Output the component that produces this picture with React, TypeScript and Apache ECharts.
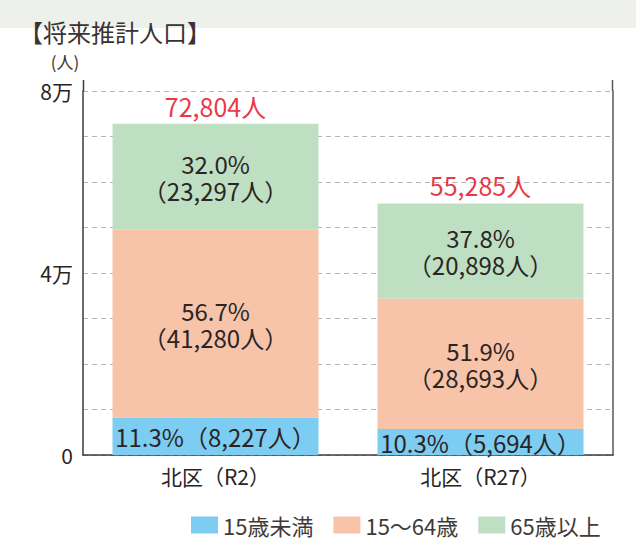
import React, { useEffect, useRef } from "react";
import * as echarts from "echarts";

const categories = ["北区（R2）", "北区（R27）"];
const seriesNames = ["15歳未満", "15〜64歳", "65歳以上"];
const under15 = [8227, 5694];
const age15to64 = [41280, 28693];
const over65 = [23297, 20898];
const totals = [72804, 55285];
const percentUnder15 = ["11.3", "10.3"];
const percent15to64 = ["56.7", "51.9"];
const percentOver65 = ["32.0", "37.8"];
const yTickLabels: Record<number, string> = { 0: "0", 40000: "4万", 80000: "8万" };

const FONT = "'Noto Sans CJK JP', 'Noto Sans', sans-serif";
const TEXT = "#2a2524";

const fmt = (n: number) => n.toLocaleString("en-US");

export default function App() {
  const ref = useRef<HTMLDivElement>(null);
  useEffect(() => {
    if (!ref.current) return;
    const chart = echarts.init(ref.current, null, { renderer: "svg" });
    const insideLabel = (pcts: string[], vals: number[], twoLine: boolean) => ({
      show: true,
      position: "inside",
      color: TEXT,
      fontFamily: FONT,
      fontSize: 24,
      lineHeight: 27,
      formatter: (p: any) =>
        twoLine
          ? `${pcts[p.dataIndex]}%\n（${fmt(vals[p.dataIndex])}人）`
          : `${pcts[p.dataIndex]}%（${fmt(vals[p.dataIndex])}人）`,
    });
    chart.setOption({
      animation: false,
      textStyle: { fontFamily: FONT },
      graphic: [
        { type: "rect", shape: { x: 0, y: 0, width: 636, height: 28 }, style: { fill: "#eef0ec" }, z: -10 },
        { type: "text", x: 19, y: 31, style: { text: "【将来推計人口】", font: `24px ${FONT}`, fill: "#3a3330", textVerticalAlign: "middle" } },
        { type: "text", x: 65, y: 61, style: { text: "(人)", font: `17px ${FONT}`, fill: "#3a3330", textAlign: "center", textVerticalAlign: "middle" } },
        { type: "line", shape: { x1: 83.5, y1: 80, x2: 83.5, y2: 91 }, style: { stroke: "#3e3a39", lineWidth: 1.5 } },
        { type: "line", shape: { x1: 612.5, y1: 80, x2: 612.5, y2: 91 }, style: { stroke: "#5a5655", lineWidth: 1.5 } },
      ],
      legend: {
        data: seriesNames,
        left: 186,
        top: 509,
        icon: "rect",
        itemWidth: 27,
        itemHeight: 17,
        itemGap: 20,
        textStyle: { fontSize: 22, color: "#3e3a39", fontFamily: FONT },
      },
      grid: { left: 83, right: 23, top: 91, bottom: 85, containLabel: false },
      xAxis: {
        type: "category",
        data: categories,
        axisLine: { lineStyle: { color: "#3e3a39", width: 1.5 } },
        axisTick: { show: false },
        axisLabel: { fontSize: 21, color: TEXT, margin: 10, fontFamily: FONT },
      },
      yAxis: [
        {
          type: "value",
          min: 0,
          max: 80000,
          interval: 10000,
          axisLine: { show: true, lineStyle: { color: "#3e3a39", width: 1.5 } },
          axisTick: { show: false },
          axisLabel: {
            fontSize: 21,
            color: TEXT,
            margin: 10,
            fontFamily: FONT,
            formatter: (v: number) => yTickLabels[v] ?? "",
          },
          splitLine: { show: true, lineStyle: { color: "#b5b5b5", type: [5, 4], width: 1 } },
        },
        {
          type: "value",
          position: "right",
          min: 0,
          max: 80000,
          interval: 10000,
          axisLine: { show: true, lineStyle: { color: "#5a5655", width: 1.5 } },
          axisTick: { show: false },
          axisLabel: { show: false },
          splitLine: { show: false },
        },
      ],
      series: [
        {
          name: seriesNames[0],
          type: "bar",
          stack: "pop",
          barWidth: 206,
          data: under15,
          itemStyle: { color: "#7dcdf2" },
          label: insideLabel(percentUnder15, under15, false),
        },
        {
          name: seriesNames[1],
          type: "bar",
          stack: "pop",
          data: age15to64,
          itemStyle: { color: "#f7c4aa" },
          label: insideLabel(percent15to64, age15to64, true),
        },
        {
          name: seriesNames[2],
          type: "bar",
          stack: "pop",
          data: over65,
          itemStyle: { color: "#bfdfc3" },
          label: insideLabel(percentOver65, over65, true),
        },
        {
          name: "total",
          type: "scatter",
          data: totals,
          symbolSize: 1,
          itemStyle: { color: "transparent" },
          label: {
            show: true,
            position: "top",
            distance: 5,
            color: "#e60012",
            fontSize: 25,
            lineHeight: 25,
            fontFamily: FONT,
            formatter: (p: any) => `${fmt(totals[p.dataIndex])}人`,
          },
          z: 5,
        },
      ],
    });
    return () => chart.dispose();
  }, []);
  return (
    <div
      ref={ref}
      style={{ position: "fixed", left: 0, top: 0, width: 636, height: 540, background: "#fff" }}
    />
  );
}
